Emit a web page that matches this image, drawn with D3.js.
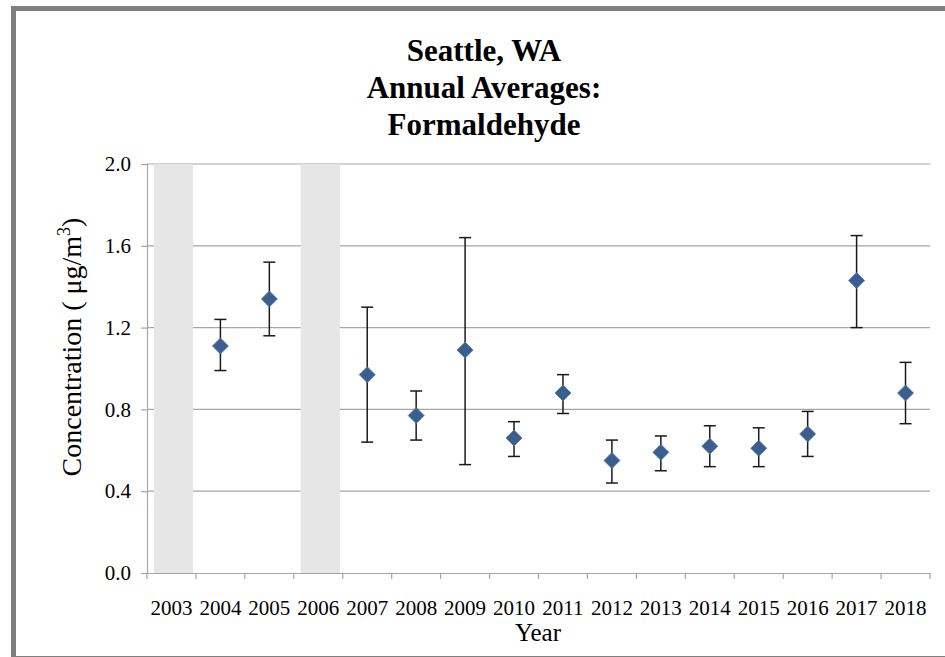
<!DOCTYPE html>
<html>
<head>
<meta charset="utf-8">
<script src="https://cdn.jsdelivr.net/npm/d3@7"></script>
<style>
body{margin:0;background:#fff;}
svg text{font-family:"Liberation Serif","Times New Roman",Times,serif;fill:#000;}
</style>
</head>
<body>
<div id="chart"></div>
<script>
// annual averages, ug/m3
var years = ["2003","2004","2005","2006","2007","2008","2009","2010","2011","2012","2013","2014","2015","2016","2017","2018"];
var noData = ["2003","2006"];
var avgYears = ["2004","2005","2007","2008","2009","2010","2011","2012","2013","2014","2015","2016","2017","2018"];
var avg   = [1.11, 1.34, 0.97, 0.77, 1.09, 0.66, 0.88, 0.55, 0.59, 0.62, 0.61, 0.68, 1.43, 0.88];
var lower = [0.99, 1.16, 0.64, 0.65, 0.53, 0.57, 0.78, 0.44, 0.50, 0.52, 0.52, 0.57, 1.20, 0.73];
var upper = [1.24, 1.52, 1.30, 0.89, 1.64, 0.74, 0.97, 0.65, 0.67, 0.72, 0.71, 0.79, 1.65, 1.03];
var yTicks = [0, 0.4, 0.8, 1.2, 1.6, 2.0];
var titleLines = ["Seattle, WA", "Annual Averages:", "Formaldehyde"];

var W = 945, H = 657;
var pLeft = 147, pRight = 930, pTop = 164, pBottom = 573;
var serif = "'Liberation Serif', 'Times New Roman', Times, 'DejaVu Serif', serif";

var svg = d3.select("#chart").append("svg")
    .attr("width", W)
    .attr("height", H);

svg.append("rect").attr("width", W).attr("height", H).attr("fill", "#fff");

// chart frame
svg.append("rect")
    .attr("x", 13.5).attr("y", 8.5)
    .attr("width", 1000).attr("height", 650)
    .attr("fill", "none")
    .attr("stroke", "#7f7f7f")
    .attr("stroke-width", 5);

var x = d3.scaleBand().domain(years).range([pLeft, pRight]);
var xBar = d3.scaleBand().domain(years).range([pLeft, pRight]).paddingInner(0.2).paddingOuter(0.1);
var y = d3.scaleLinear().domain([0, 2]).range([pBottom, pTop]);

// gridlines
svg.append("g").selectAll("line")
    .data(yTicks.filter(function(d){ return d > 0; }))
    .enter().append("line")
    .attr("x1", pLeft).attr("x2", pRight)
    .attr("y1", function(d){ return y(d); })
    .attr("y2", function(d){ return y(d); })
    .attr("stroke", "#a6a6a6")
    .attr("stroke-width", 1.2);

// years with no data
svg.append("g").selectAll("rect")
    .data(noData)
    .enter().append("rect")
    .attr("x", function(d){ return xBar(d) + 2; })
    .attr("width", xBar.bandwidth())
    .attr("y", y(2))
    .attr("height", y(0) - y(2))
    .attr("fill", "#e6e6e6");

// y axis
var yAxis = svg.append("g")
    .attr("transform", "translate(" + pLeft + ",0)")
    .call(d3.axisLeft(y).tickValues(yTicks).tickFormat(d3.format(".1f")).tickSize(6).tickPadding(10));
yAxis.attr("font-family", null);
yAxis.select(".domain").attr("stroke", "#a6a6a6").attr("stroke-width", 1.2);
yAxis.selectAll(".tick line").attr("stroke", "#a6a6a6").attr("stroke-width", 1.2);
yAxis.selectAll("text").style("font-size", "21px").style("font-family", serif).attr("fill", "#000");

// x axis
var xAxis = svg.append("g")
    .attr("transform", "translate(0," + pBottom + ")")
    .call(d3.axisBottom(x).tickSize(0).tickPadding(27));
xAxis.attr("font-family", null);
xAxis.select(".domain").attr("stroke", "#a6a6a6").attr("stroke-width", 1.2);
xAxis.selectAll("text").style("font-size", "21px").style("font-family", serif).attr("fill", "#000");
xAxis.selectAll(".bound")
    .data(d3.range(years.length + 1))
    .enter().append("line")
    .attr("class", "bound")
    .attr("x1", function(i){ return pLeft + i * x.step(); })
    .attr("x2", function(i){ return pLeft + i * x.step(); })
    .attr("y1", 0).attr("y2", 6)
    .attr("stroke", "#a6a6a6")
    .attr("stroke-width", 1.2);

// error bars
var eb = svg.append("g").selectAll("g")
    .data(avgYears)
    .enter().append("g")
    .attr("transform", function(d){ return "translate(" + (x(d) + x.bandwidth() / 2) + ",0)"; });
eb.append("line")
    .attr("y1", function(d, i){ return y(lower[i]); })
    .attr("y2", function(d, i){ return y(upper[i]); })
    .attr("stroke", "#1a1a1a").attr("stroke-width", 1.5);
eb.append("line")
    .attr("x1", -6).attr("x2", 6)
    .attr("y1", function(d, i){ return y(upper[i]); })
    .attr("y2", function(d, i){ return y(upper[i]); })
    .attr("stroke", "#1a1a1a").attr("stroke-width", 1.5);
eb.append("line")
    .attr("x1", -6).attr("x2", 6)
    .attr("y1", function(d, i){ return y(lower[i]); })
    .attr("y2", function(d, i){ return y(lower[i]); })
    .attr("stroke", "#1a1a1a").attr("stroke-width", 1.5);

// markers
eb.append("path")
    .attr("d", "M0,-8L8,0L0,8L-8,0Z")
    .attr("transform", function(d, i){ return "translate(0," + y(avg[i]) + ")"; })
    .attr("fill", "#3b5e8c")
    .attr("stroke", "#5079b0")
    .attr("stroke-width", 0.8);

// title
svg.append("g").selectAll("text")
    .data(titleLines)
    .enter().append("text")
    .attr("x", 484)
    .attr("y", function(d, i){ return 61 + i * 37; })
    .attr("text-anchor", "middle")
    .style("font-family", serif)
    .style("font-size", "31px")
    .style("font-weight", "bold")
    .text(function(d){ return d; });

// axis titles
svg.append("text")
    .attr("x", 538).attr("y", 641)
    .attr("text-anchor", "middle")
    .style("font-family", serif)
    .style("font-size", "25px")
    .text("Year");

var yt = svg.append("text")
    .attr("transform", "translate(81,347) rotate(-90)")
    .attr("text-anchor", "middle")
    .style("font-family", serif)
    .style("font-size", "28px");
yt.append("tspan").text("Concentration (");
yt.append("tspan").attr("dx", 7).text("μg/m");
yt.append("tspan").attr("dy", -11).style("font-size", "18px").text("3");
yt.append("tspan").attr("dy", 11).text(")");
</script>
</body>
</html>
